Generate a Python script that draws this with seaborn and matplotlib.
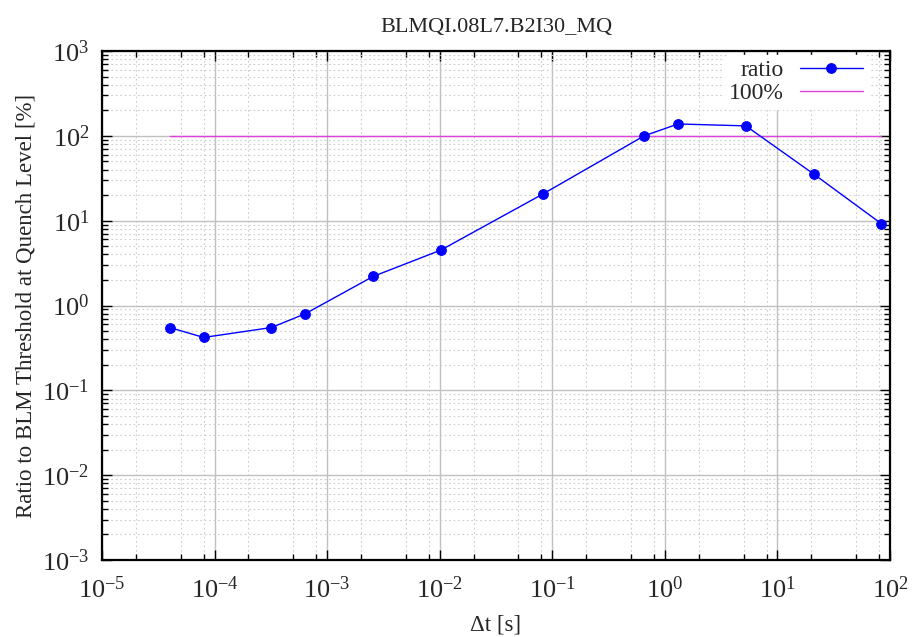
import numpy as np
import pandas as pd
import matplotlib
matplotlib.use("Agg")
import matplotlib.pyplot as plt
import matplotlib.ticker as mticker
import seaborn as sns

# Data
dt_s = [4.0e-5, 8.0e-5, 3.2e-4, 6.4e-4, 2.56e-3, 1.024e-2, 8.192e-2,
        0.65536, 1.31072, 5.24288, 20.97152, 83.88608]
ratio_pct = [0.55, 0.42, 0.55, 0.80, 2.2, 4.5, 20.5, 100.0, 138.0, 131.0, 35.5, 9.2]
ref_x = [4.0e-5, 83.88608]
ref_y = [100.0, 100.0]
title = "BLMQI.08L7.B2I30_MQ"
xlabel = "Δt [s]"
ylabel = "Ratio to BLM Threshold at Quench Level [%]"

sns.set_theme(style="white")
plt.rcParams['font.family'] = ['Liberation Serif', 'DejaVu Serif']
plt.rcParams['mathtext.fontset'] = 'custom'
plt.rcParams['mathtext.rm'] = 'Liberation Serif'
plt.rcParams['mathtext.it'] = 'Liberation Serif:italic'

fig = plt.figure(figsize=(9.15, 6.37), dpi=100)
ax = fig.add_axes([102/915, 1-560/637, (890-102)/915, (560-51)/637])

df = pd.DataFrame({"dt": dt_s, "ratio": ratio_pct})
ref = pd.DataFrame({"dt": ref_x, "ratio": ref_y})

sns.lineplot(data=df, x="dt", y="ratio", ax=ax, color="#0000ff", lw=1.0,
             marker="o", markersize=7, markeredgecolor="#0000ff", label="ratio", zorder=4)
sns.lineplot(data=ref, x="dt", y="ratio", ax=ax, color="#e040e0", lw=1.0,
             label="100%", zorder=3)

ax.set_xscale("log")
ax.set_yscale("log")
ax.set_xlim(1e-5, 1e2)
ax.set_ylim(1e-3, 1e3)

def fmt(v, pos):
    e = int(round(np.log10(v)))
    return r"$10^{%d}$" % e

ax.xaxis.set_major_locator(mticker.LogLocator(base=10, numticks=20))
ax.yaxis.set_major_locator(mticker.LogLocator(base=10, numticks=20))
ax.xaxis.set_major_formatter(mticker.FuncFormatter(fmt))
ax.yaxis.set_major_formatter(mticker.FuncFormatter(fmt))
ax.xaxis.set_minor_locator(mticker.LogLocator(base=10, subs=(2, 5, 8), numticks=20))
ax.yaxis.set_minor_locator(mticker.LogLocator(base=10, subs=np.arange(2, 10), numticks=20))
ax.xaxis.set_minor_formatter(mticker.NullFormatter())
ax.yaxis.set_minor_formatter(mticker.NullFormatter())

ax.grid(True, which="major", color="#c0c0c0", lw=1.0, ls="-")
ax.grid(True, which="minor", color="#cccccc", lw=0.8, ls=(0, (1.5, 2.5)))
ax.set_axisbelow(True)

ax.tick_params(which="both", direction="in", top=True, right=True, bottom=True, left=True,
               color="black")
ax.tick_params(which="major", length=7, width=1.0, labelsize=19)
ax.tick_params(axis="x", which="major", pad=12)
ax.tick_params(axis="y", which="major", pad=9)
ax.tick_params(which="minor", length=4, width=1.0)
for s in ax.spines.values():
    s.set_color("black")
    s.set_linewidth(1.6)

ax.set_title(title, fontsize=16, pad=14)
ax.set_xlabel(xlabel, fontsize=16.5, labelpad=8)
ax.set_ylabel(ylabel, fontsize=16.5, labelpad=4)

leg = ax.legend(loc="upper right", bbox_to_anchor=(1 - 22/788, 1 - 4/509),
                frameon=True, fontsize=17, markerfirst=False,
                handlelength=2.7, borderaxespad=0.0, borderpad=0.2,
                labelspacing=0.05, handletextpad=0.65)
leg.get_frame().set_facecolor("white")
leg.get_frame().set_edgecolor("white")
leg.get_frame().set_alpha(1.0)
for t in leg.get_texts():
    t.set_ha("right")
leg._legend_box.align = "right"

fig.savefig("out.png", dpi=100)
